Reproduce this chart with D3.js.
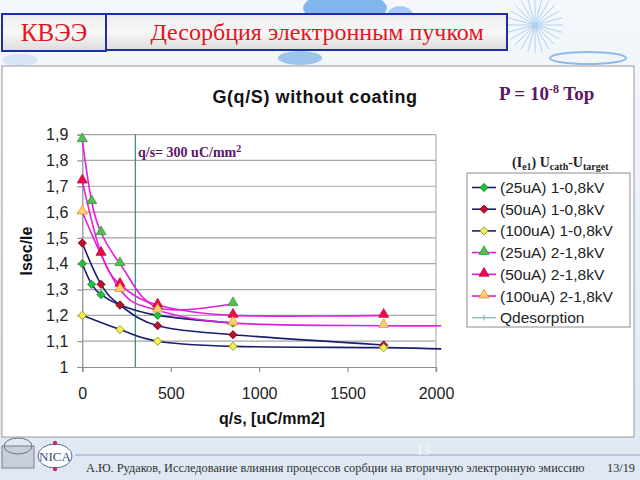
<!DOCTYPE html>
<html><head><meta charset="utf-8">
<script src="https://cdn.jsdelivr.net/npm/d3@7"></script>
<style>html,body{margin:0;padding:0;background:#fff;}svg{display:block;}</style>
</head><body>
<script>
// ---------- data ----------
const seriesNames = ["(25uA) 1-0,8kV","(50uA) 1-0,8kV","(100uA) 1-0,8kV","(25uA) 2-1,8kV","(50uA) 2-1,8kV","(100uA) 2-1,8kV"];
const qGreenD  = [0, 53, 106, 213, 426, 852];
const vGreenD  = [1.40, 1.32, 1.28, 1.24, 1.20, 1.17];
const qRedD    = [0, 106, 213, 426, 852, 1704];
const vRedD    = [1.48, 1.32, 1.24, 1.16, 1.125, 1.085];
const qYellowD = [0, 213, 426, 852, 1704];
const vYellowD = [1.20, 1.145, 1.10, 1.08, 1.075];
const qGreenT  = [0, 53, 106, 213, 426, 852];
const vGreenT  = [1.88, 1.64, 1.52, 1.40, 1.23, 1.245];
const qRedT    = [0, 106, 213, 426, 852, 1704];
const vRedT    = [1.72, 1.44, 1.32, 1.24, 1.20, 1.20];
const qOrangeT = [0, 213, 426, 852, 1704];
const vOrangeT = [1.60, 1.30, 1.22, 1.17, 1.16];
// unmarked line tails running past the right edge
const tailQ = 2030;
const tailYellow = 1.07;
const tailOrange = 1.16;
const qDesorption = 300;
const yTicks = [1,1.1,1.2,1.3,1.4,1.5,1.6,1.7,1.8,1.9];
const xTicks = [0,500,1000,1500,2000];

const W = 640, H = 480;
const svg = d3.select("body").append("svg").attr("width", W).attr("height", H);
const defs = svg.append("defs");

// ---------- slide background ----------
const bg = defs.append("linearGradient").attr("id","bg").attr("x1",0).attr("y1",0).attr("x2",0).attr("y2",1);
bg.append("stop").attr("offset","0").attr("stop-color","#f4f8fc");
bg.append("stop").attr("offset","1").attr("stop-color","#dfe8f2");
svg.append("rect").attr("width",W).attr("height",H).attr("fill","url(#bg)");
// decorative header blobs
const deco = svg.append("g").attr("opacity",0.75);
deco.append("ellipse").attr("cx",345).attr("cy",8).attr("rx",42).attr("ry",16).attr("fill","#5da2ea");
deco.append("ellipse").attr("cx",300).attr("cy",58).attr("rx",22).attr("ry",7).attr("fill","#7fb3ea");
deco.append("ellipse").attr("cx",400).attr("cy",18).attr("rx",14).attr("ry",12).attr("fill","#8fbef0");
deco.append("ellipse").attr("cx",588).attr("cy",58).attr("rx",38).attr("ry",6).attr("fill","none").attr("stroke","#6aa6e6").attr("stroke-width",2);
deco.append("ellipse").attr("cx",135).attr("cy",32).attr("rx",14).attr("ry",18).attr("fill","#8ab8e8").attr("opacity",0.7);
for (let i=0;i<24;i++){
  const a = i*Math.PI/12;
  deco.append("line").attr("x1",535).attr("y1",25).attr("x2",535+28*Math.cos(a)).attr("y2",25+28*Math.sin(a))
    .attr("stroke","#9cc4ee").attr("stroke-width",1);
}
deco.append("ellipse").attr("cx",20).attr("cy",60).attr("rx",18).attr("ry",6).attr("fill","#cfe0f2");

// header boxes
const boxG = defs.append("linearGradient").attr("id","boxg").attr("x1",0).attr("y1",0).attr("x2",0).attr("y2",1);
boxG.append("stop").attr("offset","0").attr("stop-color","#ececec");
boxG.append("stop").attr("offset","0.5").attr("stop-color","#f8f8f8");
boxG.append("stop").attr("offset","1").attr("stop-color","#dcdcdc");
svg.append("rect").attr("x",2).attr("y",14).attr("width",104).attr("height",37)
  .attr("fill","url(#boxg)").attr("stroke","#1c2fa8").attr("stroke-width",2);
svg.append("text").attr("x",54).attr("y",41).attr("text-anchor","middle")
  .attr("font-family","Liberation Serif, serif").attr("font-size",25).attr("fill","#e4141e").text("КВЭЭ");
svg.append("rect").attr("x",106).attr("y",14).attr("width",401).attr("height",36)
  .attr("fill","url(#boxg)").attr("stroke","#1c2fa8").attr("stroke-width",2);
svg.append("text").attr("x",317).attr("y",40).attr("text-anchor","middle")
  .attr("font-family","Liberation Serif, serif").attr("font-size",24).attr("fill","#e4141e").text("Десорбция электронным пучком");

// white panel
svg.append("rect").attr("x",2).attr("y",66).attr("width",632).attr("height",371)
  .attr("fill","#ffffff").attr("stroke","#9a9a9a").attr("stroke-width",1);

// ---------- chart ----------
const x = d3.scaleLinear().domain([0,2000]).range([82.3,436]);
const y = d3.scaleLinear().domain([1,1.9]).range([367,134.6]);

// grid
svg.append("g").selectAll("line").data(yTicks.slice(1)).join("line")
  .attr("x1",x(0)).attr("x2",x(2000)).attr("y1",d=>y(d)).attr("y2",d=>y(d))
  .attr("stroke","#a6a6a6").attr("stroke-width",1.2);
svg.append("line").attr("x1",x(2000)).attr("x2",x(2000)).attr("y1",y(1.9)).attr("y2",y(1)+5)
  .attr("stroke","#b0b0b0").attr("stroke-width",1.2);

const fmt = d => d3.format(".1f")(d).replace(".",",");
const yAxis = svg.append("g").attr("transform",`translate(${x(0)},0)`)
  .call(d3.axisLeft(y).tickValues(yTicks).tickSize(5).tickPadding(9).tickFormat(d=> d===1 ? "1" : fmt(d)));
const xAxis = svg.append("g").attr("transform",`translate(0,${y(1)})`)
  .call(d3.axisBottom(x).tickValues(xTicks).tickSize(5).tickPadding(12).tickFormat(d3.format("d")));
[yAxis,xAxis].forEach(a=>{
  a.select(".domain").attr("stroke","#8c8c8c").attr("stroke-width",1.2);
  a.selectAll(".tick line").attr("stroke","#8c8c8c").attr("stroke-width",1.2);
  a.selectAll("text").attr("font-family","Liberation Sans, Arial, sans-serif").attr("font-size",16).attr("fill","#222");
});
xAxis.selectAll("text").attr("dy","0.95em");

// Qdesorption line
svg.append("line").attr("x1",x(qDesorption)).attr("x2",x(qDesorption)).attr("y1",y(1)).attr("y2",y(1.9))
  .attr("stroke","#2f8f78").attr("stroke-width",1.2);

// series
const navy = "#1b1d6e", magenta = "#e21ee0";
const series = [
  {q:qGreenD,  v:vGreenD,  line:navy,    shape:"diamond",  fill:"#22c03a", stroke:"#1a7f2a"},
  {q:qRedD,    v:vRedD,    line:navy,    shape:"diamond",  fill:"#c0102c", stroke:"#7a0a1a"},
  {q:qYellowD, v:vYellowD, line:navy,    shape:"diamond",  fill:"#f4f04a", stroke:"#8a8420", tail:tailYellow},
  {q:qGreenT,  v:vGreenT,  line:magenta, shape:"triangle", fill:"#55bb55", stroke:"#3a9a3a"},
  {q:qRedT,    v:vRedT,    line:magenta, shape:"triangle", fill:"#ee0a48", stroke:"#c00a38"},
  {q:qOrangeT, v:vOrangeT, line:magenta, shape:"triangle", fill:"#ffd070", stroke:"#f08a30", tail:tailOrange},
];
const lineGen = d3.line().x(d=>x(d[0])).y(d=>y(d[1])).curve(d3.curveCardinal.tension(0));
series.forEach(s=>{
  const pts = s.q.map((q,i)=>[q,s.v[i]]);
  if (s.tail !== undefined) pts.push([tailQ, s.tail]);
  svg.append("path").attr("d",lineGen(pts)).attr("fill","none").attr("stroke",s.line).attr("stroke-width",1.6);
});
const sym = {diamond: d3.symbol().type(d3.symbolDiamond2).size(44), triangle: d3.symbol().type(d3.symbolTriangle).size(44)};
series.forEach(s=>{
  svg.append("g").selectAll("path").data(s.q.map((q,i)=>[q,s.v[i]])).join("path")
    .attr("d", sym[s.shape]).attr("transform",d=>`translate(${x(d[0])},${y(d[1]) + (s.shape==="triangle"?-1:0)})`)
    .attr("fill",s.fill).attr("stroke",s.stroke).attr("stroke-width",0.8);
});

// titles
svg.append("text").attr("x",315).attr("y",103).attr("text-anchor","middle")
  .attr("font-family","Liberation Sans, Arial, sans-serif").attr("font-weight","bold").attr("font-size",18)
  .attr("letter-spacing",0.6).attr("fill","#111").text("G(q/S) without coating");
svg.append("text").attr("x",138).attr("y",157)
  .attr("font-family","Liberation Serif, serif").attr("font-weight","bold").attr("font-size",14).attr("fill","#5c1664")
  .text("q/s= 300 uC/mm").append("tspan").attr("dy",-5).attr("font-size",10).text("2");
svg.append("text").attr("x",272).attr("y",424).attr("text-anchor","middle")
  .attr("font-family","Liberation Sans, Arial, sans-serif").attr("font-weight","bold").attr("font-size",16)
  .attr("fill","#111").text("q/s, [uC/mm2]");
svg.append("text").attr("transform","translate(32,251) rotate(-90)").attr("text-anchor","middle")
  .attr("font-family","Liberation Sans, Arial, sans-serif").attr("font-weight","bold").attr("font-size",16)
  .attr("fill","#111").text("Isec/Ie");

const pt = svg.append("text").attr("x",499).attr("y",100)
  .attr("font-family","Liberation Serif, serif").attr("font-weight","bold").attr("font-size",19).attr("fill","#5c1664");
pt.append("tspan").text("P = 10");
pt.append("tspan").attr("dy",-7).attr("font-size",12).text("-8");
pt.append("tspan").attr("dy",7).text(" Top");

const ie = svg.append("text").attr("x",512).attr("y",167)
  .attr("font-family","Liberation Serif, serif").attr("font-weight","bold").attr("font-size",14).attr("fill","#222");
ie.append("tspan").text("(I");
ie.append("tspan").attr("dy",3).attr("font-size",10).text("e1");
ie.append("tspan").attr("dy",-3).text(")   U");
ie.append("tspan").attr("dy",3).attr("font-size",10).text("cath");
ie.append("tspan").attr("dy",-3).text("-U");
ie.append("tspan").attr("dy",3).attr("font-size",10).text("target");

// legend
svg.append("rect").attr("x",467).attr("y",173).attr("width",163).attr("height",154)
  .attr("fill","#fff").attr("stroke","#8c8c8c").attr("stroke-width",1);
const legItems = series.map((s,i)=>({name:seriesNames[i], s}));
legItems.push({name:"Qdesorption", s:null});
legItems.forEach((it,i)=>{
  const ly = 187.5 + i*21.7;
  if (it.s){
    svg.append("line").attr("x1",472).attr("x2",496).attr("y1",ly).attr("y2",ly).attr("stroke",it.s.line).attr("stroke-width",1.6);
    svg.append("path").attr("d",sym[it.s.shape]()).attr("transform",`translate(484,${ly + (it.s.shape==="triangle"?-1:0)})`)
      .attr("fill",it.s.fill).attr("stroke",it.s.stroke).attr("stroke-width",0.8);
  } else {
    svg.append("line").attr("x1",472).attr("x2",496).attr("y1",ly).attr("y2",ly).attr("stroke","#7ab8b0").attr("stroke-width",1.2);
    svg.append("line").attr("x1",484).attr("x2",484).attr("y1",ly-3).attr("y2",ly+3).attr("stroke","#7ab8b0").attr("stroke-width",1);
  }
  svg.append("text").attr("x",500).attr("y",ly+5.5)
    .attr("font-family","Liberation Sans, Arial, sans-serif").attr("font-size",15.5).attr("fill","#222").text(it.name);
});

// ---------- footer ----------
svg.append("line").attr("x1",75).attr("x2",640).attr("y1",455).attr("y2",455).attr("stroke","#8fa3bb").attr("stroke-width",1.2);
svg.append("text").attr("x",423).attr("y",455).attr("text-anchor","middle").attr("font-family","Liberation Serif, serif")
  .attr("font-size",14).attr("fill","#ffffff").attr("opacity",0.7).text("13");
svg.append("text").attr("x",86).attr("y",472)
  .attr("font-family","Liberation Serif, serif").attr("font-size",12.3).attr("fill","#333")
  .text("А.Ю. Рудаков, Исследование влияния процессов сорбции на вторичную электронную эмиссию");
svg.append("text").attr("x",635).attr("y",472).attr("text-anchor","end")
  .attr("font-family","Liberation Serif, serif").attr("font-size",12.3).attr("fill","#333").text("13/19");
// logos
svg.append("rect").attr("x",2).attr("y",446).attr("width",32).attr("height",22).attr("fill","#c9cfd8").attr("stroke","#7a8090");
svg.append("ellipse").attr("cx",18).attr("cy",446).attr("rx",14).attr("ry",8).attr("fill","none").attr("stroke","#6a7080");
svg.append("ellipse").attr("cx",55).attr("cy",456).attr("rx",17).attr("ry",12).attr("fill","#ffffff").attr("stroke","#5a6a90");
svg.append("text").attr("x",55).attr("y",461).attr("text-anchor","middle").attr("font-family","Liberation Serif, serif")
  .attr("font-size",13).attr("fill","#3a4a80").text("NICA");
svg.append("circle").attr("cx",55).attr("cy",443).attr("r",2.2).attr("fill","#c03060");
svg.append("circle").attr("cx",55).attr("cy",469).attr("r",2.2).attr("fill","#c03060");
</script>
</body></html>
